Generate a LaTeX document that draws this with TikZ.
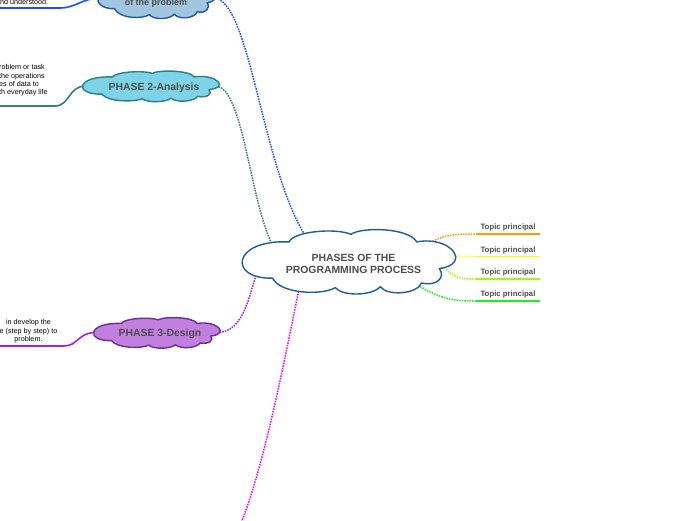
\documentclass[tikz,border=0pt]{standalone}
\usepackage{fontspec}
\setmainfont{Liberation Sans}
\usetikzlibrary{shapes.geometric}
\definecolor{cblue}{HTML}{1C5BA6}
\definecolor{p1fill}{HTML}{A3C6E0}
\definecolor{p2fill}{HTML}{7ED4E6}
\definecolor{p2line}{HTML}{2C7F88}
\definecolor{p3fill}{HTML}{C17FE0}
\definecolor{p3line}{HTML}{6B2F92}
\definecolor{txtgray}{HTML}{4D4D4D}
\definecolor{lblue}{HTML}{1A4FFF}
\definecolor{lteal}{HTML}{2E7F86}
\definecolor{lpurple}{HTML}{9B1FFF}
\definecolor{lmag}{HTML}{FF00FF}
\definecolor{lorange}{HTML}{FF9900}
\definecolor{lyellow}{HTML}{FFFF00}
\definecolor{llime}{HTML}{99FF00}
\definecolor{topicgreen}{HTML}{22EE22}
\newcommand\cloudoutline[5]{%
  \path[#5, shift={(#1,#2)}, x=#3pt, y=-#4pt]
    (-0.573,-0.625) .. controls (-0.535,-0.969) and (-0.131,-1.094) .. (0.019,-0.875)
    .. controls (0.122,-1.125) and (0.573,-1.094) .. (0.648,-0.625)
    .. controls (0.967,-0.844) and (1.183,0.094) .. (0.864,0.25)
    .. controls (0.930,0.531) and (0.836,0.844) .. (0.695,0.719)
    .. controls (0.648,1.094) and (0.366,1.156) .. (0.300,0.844)
    .. controls (0.216,1.156) and (-0.066,1.156) .. (-0.131,0.875)
    .. controls (-0.254,1.125) and (-0.648,1.094) .. (-0.732,0.563)
    .. controls (-1.164,0.594) and (-1.117,-0.719) .. (-0.573,-0.625) -- cycle;}
\tikzset{
  anchorbox/.style={ellipse, inner sep=0pt},
  cloudline/.style={line width=1.4pt, line join=round},
  phasetxt/.style={font=\fontsize{10.4}{12}\selectfont\bfseries, text=txtgray, inner sep=0pt},
  smalltxt/.style={font=\fontsize{7.2}{8.3}\selectfont, text=black, inner sep=0pt},
  topictxt/.style={font=\fontsize{7.8}{9}\selectfont\bfseries, text=txtgray, minimum width=64pt, inner xsep=0pt, inner ysep=2.2pt, anchor=south},
  dotline/.style={line width=1.5pt, dash pattern=on 1.5pt off 1.1pt},
  solidline/.style={line width=1.6pt}
}
\begin{document}
\begin{tikzpicture}[x=1pt,y=-1pt]
\useasboundingbox (0,0) rectangle (696,520);
\fill[white] (0,0) rectangle (696,520);
\clip (0,0) rectangle (696,520);

% anchor areas of the clouds
\node[anchorbox, minimum width=196pt, minimum height=52pt] (c) at (349,261) {};
\node[anchorbox, minimum width=112pt, minimum height=34pt] (p1) at (157,-2) {};
\node[anchorbox, minimum width=130pt, minimum height=26pt] (p2) at (151,86) {};
\node[anchorbox, minimum width=120pt, minimum height=26pt] (p3) at (157,332.5) {};

% topics
\node[topictxt] (t1) at (508,234) {Topic principal};
\node[topictxt] (t2) at (508,256.5) {Topic principal};
\node[topictxt] (t3) at (508,279) {Topic principal};
\node[topictxt] (t4) at (508,301) {Topic principal};
\draw[solidline, lorange] (t1.south west) -- (t1.south east);
\draw[solidline, lyellow] (t2.south west) -- (t2.south east);
\draw[solidline, llime] (t3.south west) -- (t3.south east);
\draw[solidline, topicgreen] (t4.south west) -- (t4.south east);

% left solid connectors
\draw[solidline, lblue] (p1.west) .. controls (82,-2) and (76,8) .. (60,8) -- (0,8);
\draw[solidline, lteal] (p2.west) .. controls (68,86) and (70,106) .. (55,106) -- (0,106);
\draw[solidline, lpurple] (p3.west) .. controls (78,332) and (78,346) .. (64,346) -- (0,346);

% dotted connectors to centre
\draw[dotline, lblue] (p1.east) .. controls (250,-3) and (262,170) .. (c.151);
\draw[dotline, lteal] (p2.east) .. controls (243,88) and (250,200) .. (c.168);
\draw[dotline, lpurple] (p3.east) .. controls (245,333) and (250,290) .. (c.186);
\coordinate (p4end) at (238,530);
\draw[dotline, lmag] (c.205) .. controls (290,330) and (265,470) .. (p4end);
\draw[dotline, lorange] (c.12) .. controls (445,234) and (455,234) .. (t1.south west);
\draw[dotline, lyellow] (c.3) -- (t2.south west);
\draw[dotline, llime] (c.-4) .. controls (455,278) and (460,279) .. (t3.south west);
\draw[dotline, topicgreen] (c.-18) .. controls (440,300) and (455,301) .. (t4.south west);

% cloud outlines
\cloudoutline{349}{261}{104.5}{30.5}{cloudline, draw=cblue, fill=white}
\cloudoutline{157}{-2}{58}{19}{cloudline, draw=cblue, fill=p1fill}
\cloudoutline{151}{86}{67}{14.5}{cloudline, draw=p2line, fill=p2fill}
\cloudoutline{157}{332.5}{62}{14.5}{cloudline, draw=p3line, fill=p3fill}

% texts
\node[font=\fontsize{10.4}{12}\selectfont\bfseries, text=txtgray, align=center, inner sep=0pt] (ct) at (353.5,264) {PHASES OF THE\\PROGRAMMING PROCESS};
\node[phasetxt, font=\fontsize{9}{10}\selectfont\bfseries] (p1t) at (156,3.5) {of the problem};
\node[phasetxt] (p2t) at (154,88) {PHASE 2-Analysis};
\node[phasetxt] (p3t) at (160,334) {PHASE 3-Design};
\node[smalltxt, anchor=west] (p1s) at (0,1.8) {nd understood.};
\node[smalltxt, anchor=north west, align=left] (p2s) at (-1,64.5) {roblem or task\\the operations\\es of data to\\th everyday life};
\node[smalltxt, anchor=north, align=center] (p3s) at (28.5,319.5) {in develop the\\e (step by step) to\\problem.};
\end{tikzpicture}
\end{document}
